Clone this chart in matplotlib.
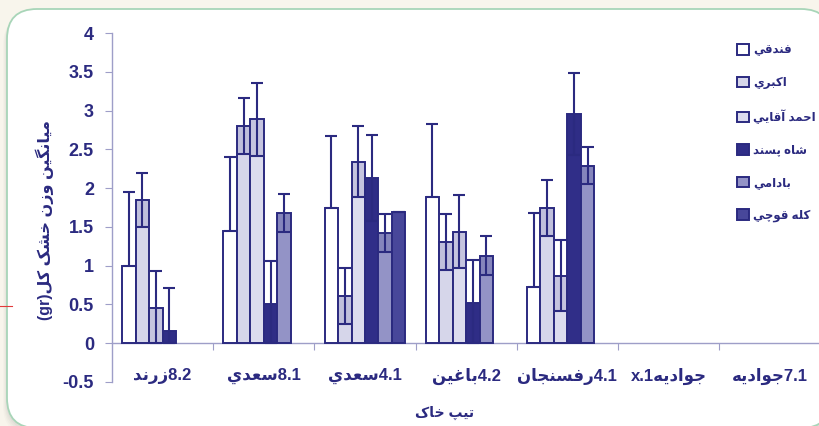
import numpy as np
import matplotlib
matplotlib.use("Agg")
import matplotlib.pyplot as plt
from matplotlib.patches import FancyBboxPatch

# ---------------------------------------------------------------- data
nan = np.nan
categories = ["8.2زرند", "8.1سعدي", "4.1سعدي", "4.2باغين", "4.1رفسنجان", "جواديهx.1", "7.1جواديه"]
series_names = ["فندقي", "اکبري", "احمد آقايي", "شاه پسند", "بادامي", "کله قوچي"]

fandoghi = [1.00, 1.45, 1.75, 1.88, 0.72, nan, nan]
akbari = [1.85, 2.80, 0.61, 1.31, 1.74, nan, nan]
ahmad_aghaei = [0.46, 2.89, 2.34, 1.44, 0.87, nan, nan]
shah_pasand = [0.16, 0.51, 2.13, 0.52, 2.96, nan, nan]
badami = [nan, 1.68, 1.42, 1.13, 2.29, nan, nan]
kaleh_ghouchi = [nan, nan, 1.69, nan, nan, nan, nan]

fandoghi_sd = [0.95, 0.95, 0.92, 0.95, 0.96, nan, nan]
akbari_sd = [0.35, 0.36, 0.36, 0.36, 0.36, nan, nan]
ahmad_aghaei_sd = [0.47, 0.47, 0.46, 0.47, 0.46, nan, nan]
shah_pasand_sd = [0.55, 0.55, 0.55, 0.55, 0.53, nan, nan]
badami_sd = [nan, 0.25, 0.25, 0.25, 0.24, nan, nan]
kaleh_ghouchi_sd = [nan, nan, 0.0, nan, nan, nan, nan]

y_ticks = [-0.5, 0, 0.5, 1, 1.5, 2, 2.5, 3, 3.5, 4]
y_tick_labels = ["-0.5", "0", "0.5", "1", "1.5", "2", "2.5", "3", "3.5", "4"]
y_title = "ميانگين وزن خشک کل(gr)"
x_title = "تيپ خاک"

means = [fandoghi, akbari, ahmad_aghaei, shah_pasand, badami, kaleh_ghouchi]
sds = [fandoghi_sd, akbari_sd, ahmad_aghaei_sd, shah_pasand_sd, badami_sd, kaleh_ghouchi_sd]
two_sided = [False, True, True, True, True, True]

# ---------------------------------------------------------------- Persian shaping
# (isolated, final, initial, medial); right-joining letters have no initial/medial
FORMS = {
    "\u0622": ("\uFE81", "\uFE82", None, None),
    "\u0627": ("\uFE8D", "\uFE8E", None, None),
    "\u0628": ("\uFE8F", "\uFE90", "\uFE91", "\uFE92"),
    "\u062A": ("\uFE95", "\uFE96", "\uFE97", "\uFE98"),
    "\u062C": ("\uFE9D", "\uFE9E", "\uFE9F", "\uFEA0"),
    "\u062D": ("\uFEA1", "\uFEA2", "\uFEA3", "\uFEA4"),
    "\u062E": ("\uFEA5", "\uFEA6", "\uFEA7", "\uFEA8"),
    "\u062F": ("\uFEA9", "\uFEAA", None, None),
    "\u0631": ("\uFEAD", "\uFEAE", None, None),
    "\u0632": ("\uFEAF", "\uFEB0", None, None),
    "\u0633": ("\uFEB1", "\uFEB2", "\uFEB3", "\uFEB4"),
    "\u0634": ("\uFEB5", "\uFEB6", "\uFEB7", "\uFEB8"),
    "\u0639": ("\uFEC9", "\uFECA", "\uFECB", "\uFECC"),
    "\u063A": ("\uFECD", "\uFECE", "\uFECF", "\uFED0"),
    "\u0641": ("\uFED1", "\uFED2", "\uFED3", "\uFED4"),
    "\u0642": ("\uFED5", "\uFED6", "\uFED7", "\uFED8"),
    "\u0644": ("\uFEDD", "\uFEDE", "\uFEDF", "\uFEE0"),
    "\u0645": ("\uFEE1", "\uFEE2", "\uFEE3", "\uFEE4"),
    "\u0646": ("\uFEE5", "\uFEE6", "\uFEE7", "\uFEE8"),
    "\u0647": ("\uFEE9", "\uFEEA", "\uFEEB", "\uFEEC"),
    "\u0648": ("\uFEED", "\uFEEE", None, None),
    "\u064A": ("\uFEF1", "\uFEF2", "\uFEF3", "\uFEF4"),
    "\u067E": ("\uFB56", "\uFB57", "\uFB58", "\uFB59"),
    "\u0686": ("\uFB7A", "\uFB7B", "\uFB7C", "\uFB7D"),
    "\u06A9": ("\uFB8E", "\uFB8F", "\uFB90", "\uFB91"),
    "\u06AF": ("\uFB92", "\uFB93", "\uFB94", "\uFB95"),
}


def shape(word):
    out = []
    for i, ch in enumerate(word):
        f = FORMS.get(ch)
        if f is None:
            out.append(ch)
            continue
        prev = word[i - 1] if i > 0 else ""
        nxt = word[i + 1] if i + 1 < len(word) else ""
        join_prev = prev in FORMS and FORMS[prev][2] is not None
        join_next = f[2] is not None and nxt in FORMS
        if join_prev and join_next:
            out.append(f[3])
        elif join_prev:
            out.append(f[1])
        elif join_next:
            out.append(f[2])
        else:
            out.append(f[0])
    return "".join(out)


def visual(text):
    """Lay out a right-to-left line (with embedded Latin runs) for left-to-right drawing."""
    kinds = []
    for ch in text:
        kinds.append("R" if ch in FORMS else ("N" if ch == " " else "L"))
    for i, k in enumerate(kinds):
        if k == "N":
            left = kinds[i - 1] if i > 0 else "R"
            right = kinds[i + 1] if i + 1 < len(kinds) else "R"
            kinds[i] = "L" if (left == "L" and right == "L") else "R"
    runs = []
    for ch, k in zip(text, kinds):
        if runs and runs[-1][0] == k:
            runs[-1][1] += ch
        else:
            runs.append([k, ch])
    parts = []
    for k, s in reversed(runs):
        parts.append(shape(s)[::-1] if k == "R" else s)
    return "".join(parts)


# ---------------------------------------------------------------- style
NAVY = "#2B2A80"
AXIS = "#9E9EC8"
FILLS = ["#FFFFFF", "#D6D6EA", "#DCDCEE", "#302E88", "#9393C6", "#48479A"]
FAMILY = ["Liberation Sans", "DejaVu Sans"]
plt.rcParams["font.family"] = FAMILY
plt.rcParams["font.weight"] = "bold"

fig = plt.figure(figsize=(8.19, 4.26), dpi=100, facecolor="#F8F5EC")

# rounded white panel behind the chart
bg = fig.add_axes([0, 0, 1, 1], zorder=-10)
bg.set_xlim(0, 819)
bg.set_ylim(426, 0)
bg.axis("off")
for k, a in enumerate([0.06, 0.05, 0.04, 0.03]):
    bg.add_patch(FancyBboxPatch((6 - k, 11 + 1.5 * k), 824, 420,
                                boxstyle="round,pad=0,rounding_size=30",
                                fc="#808080", ec="none", alpha=a))
bg.add_patch(FancyBboxPatch((7, 9), 824, 419, boxstyle="round,pad=0,rounding_size=30",
                            fc="white", ec="#A8D5B8", lw=1.3))
bg.plot([0, 12], [306, 306], color="#E23A3A", lw=0.8)

# ---------------------------------------------------------------- chart
ax = fig.add_axes([112 / 819, 44 / 426, 708.4 / 819, 349 / 426])
ax.set_facecolor("none")
n_cat = len(categories)
n_ser = len(means)
width = 1 / 7.5
centers = np.arange(n_cat) + 0.5

handles = []
for j in range(n_ser):
    m = np.asarray(means[j], float)
    s = np.asarray(sds[j], float)
    ok = np.isfinite(m)
    x = centers[ok] + (j - (n_ser - 1) / 2) * width
    bars = ax.bar(x, m[ok], width=width, color=FILLS[j], edgecolor=NAVY,
                  linewidth=1.4, zorder=3)
    handles.append(bars)
    up = s[ok]
    low = np.minimum(s[ok], m[ok]) if two_sided[j] else np.zeros_like(up)
    if two_sided[j]:
        ax.bar(x, low, bottom=m[ok] - low, width=width, color=NAVY, alpha=0.13,
               linewidth=0, zorder=3.5)
    ax.errorbar(x, m[ok], yerr=[low, up], fmt="none", ecolor=NAVY, elinewidth=1.5,
                capsize=4.4, capthick=1.5, zorder=4)

ax.set_xlim(0, n_cat)
ax.set_ylim(-0.5, 4)

for side in ["top", "right"]:
    ax.spines[side].set_visible(False)
ax.spines["bottom"].set_position(("data", 0))
ax.spines["bottom"].set_color(AXIS)
ax.spines["left"].set_color(AXIS)
ax.spines["bottom"].set_linewidth(1.0)
ax.spines["left"].set_linewidth(1.0)

ax.set_yticks(y_ticks)
ax.set_yticklabels(y_tick_labels, fontsize=13, fontweight="bold", color=NAVY)
ax.tick_params(axis="y", direction="out", length=5, width=0.8, color=AXIS, pad=8)

ax.set_xticks(np.arange(1, n_cat))
ax.set_xticklabels([])
ax.tick_params(axis="x", which="major", direction="out", length=5, width=0.8, color=AXIS)
ax.set_xticks(centers, minor=True)
ax.set_xticklabels([visual(c) for c in categories], minor=True, fontsize=12,
                   fontweight="bold", color=NAVY)
ax.tick_params(axis="x", which="minor", length=0, pad=18)

fig.text(45 / 819, 1 - 220 / 426, visual(y_title), rotation=90, ha="center", va="center",
         fontsize=11.5, fontweight="bold", color=NAVY)
fig.text(445 / 819, 1 - 413 / 426, visual(x_title), ha="center", va="center",
         fontsize=10, fontweight="bold", color=NAVY)

leg = ax.legend([h.patches[0] for h in handles], [visual(s) for s in series_names],
                loc="upper left", bbox_to_anchor=(737 / 819, 1 - 44 / 426),
                bbox_transform=fig.transFigure, frameon=False, borderpad=0,
                borderaxespad=0, handlelength=1.0, handleheight=1.0,
                handletextpad=0.35, labelspacing=1.72,
                prop={"family": FAMILY, "weight": "bold", "size": 8.5})
for t in leg.get_texts():
    t.set_color(NAVY)

fig.savefig("out.png", dpi=100, facecolor=fig.get_facecolor())
